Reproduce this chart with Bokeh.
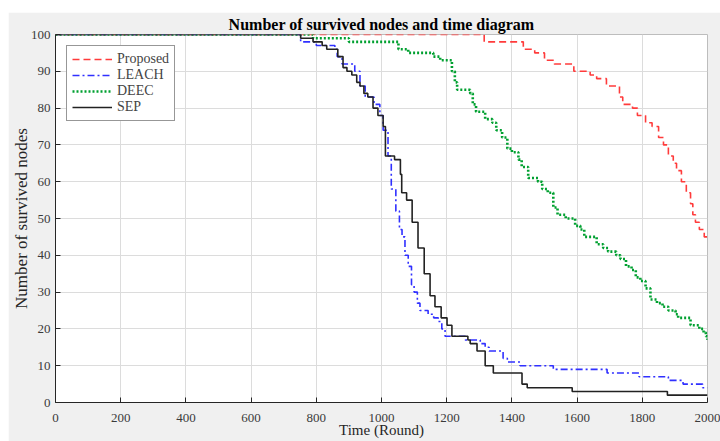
from bokeh.plotting import figure
from bokeh.embed import file_html
from bokeh.resources import INLINE
from bokeh.models import Legend, LegendItem, FixedTicker

# ---- data (round, alive nodes) breakpoints ----
prop_r = [0, 1315, 1435, 1470, 1500, 1530, 1590, 1640, 1660, 1690, 1730, 1740, 1770, 1785, 1810, 1830,
          1850, 1865, 1880, 1895, 1905, 1920, 1935, 1948, 1955, 1963, 1975, 1990, 2000]
prop_n = [100, 98, 96, 95, 93, 92, 90, 89, 88, 86, 83, 81, 80, 78, 76, 75,
          72, 70, 67, 65, 63, 60, 57, 54, 51, 49, 47, 45, 44]

leach_r = [0, 752, 800, 857, 864, 879, 918, 934, 950, 977, 995, 1005, 1020, 1030, 1044, 1055, 1063,
           1072, 1082, 1092, 1100, 1110, 1118, 1143, 1160, 1174, 1185, 1195, 1257, 1303, 1318, 1330,
           1373, 1386, 1425, 1527, 1692, 1790, 1880, 1925, 1985, 2000]
leach_n = [100, 98, 97, 96, 94, 92, 90, 86, 83, 81, 78, 74, 67, 58, 52, 47, 45,
           40, 37, 32, 30, 27, 25, 24, 23, 22, 20, 18, 17, 16, 15, 14,
           12, 11, 10, 9, 8, 7, 6, 5, 4, 4]

deec_r = [0, 790, 900, 1052, 1082, 1159, 1180, 1216, 1225, 1232, 1272, 1280, 1290, 1318, 1340, 1352,
          1370, 1386, 1400, 1420, 1430, 1450, 1480, 1493, 1510, 1527, 1540, 1565, 1594, 1610, 1622,
          1660, 1680, 1695, 1720, 1733, 1750, 1767, 1780, 1794, 1810, 1825, 1845, 1862, 1880, 1902,
          1910, 1948, 1975, 1988, 1995, 2000]
deec_n = [100, 99, 98, 96, 95, 94, 93, 90, 87, 85, 84, 81, 79, 77, 76, 74,
          72, 69, 68, 66, 64, 61, 60, 58, 57, 53, 51, 50, 48, 47, 45,
          43, 42, 41, 40, 39, 37, 36, 34, 33, 31, 28, 27, 26, 25, 24,
          23, 21, 20, 19, 18, 17]

sep_r = [0, 752, 790, 818, 832, 866, 882, 894, 909, 924, 934, 946, 958, 974, 989, 1005, 1012, 1040,
         1058, 1062, 1077, 1094, 1112, 1131, 1149, 1164, 1183, 1201, 1216, 1265, 1272, 1293, 1318,
         1343, 1431, 1447, 1585, 1877, 2000]
sep_n = [100, 99, 98, 97, 96, 94, 91, 90, 89, 87, 86, 84, 83, 80, 78, 75, 67, 66,
         62, 57, 55, 49, 42, 35, 29, 26, 23, 21, 18, 17, 16, 14, 10,
         8, 5, 4, 3, 2, 2]

x_ticks = [0, 200, 400, 600, 800, 1000, 1200, 1400, 1600, 1800, 2000]
y_ticks = [0, 10, 20, 30, 40, 50, 60, 70, 80, 90, 100]

SERIF = "Liberation Serif"
BG = "#f0f0f0"

p = figure(width=712, height=429, output_backend="svg", toolbar_location=None,
           x_range=(0, 2000), y_range=(0, 100),
           title="Number of survived nodes and time diagram",
           background_fill_color="white", border_fill_color=BG,
           min_border_left=47, min_border_right=13, min_border_top=22, min_border_bottom=39)
p.margin = (12, 0, 0, 8)

p.title.align = "center"
p.title.text_font = SERIF
p.title.text_font_size = "16px"
p.title.text_font_style = "bold"
p.title.text_color = "black"
p.title.standoff = 0
p.title.vertical_align = "top"

p.outline_line_color = "#bdbdbd"
p.outline_line_width = 1

for ax in (p.xaxis[0], p.yaxis[0]):
    ax.axis_line_color = "#262626"
    ax.major_tick_line_color = "#262626"
    ax.major_tick_in = 5
    ax.major_tick_out = 0
    ax.minor_tick_line_color = None
    ax.major_label_text_font = SERIF
    ax.major_label_text_font_size = "13px"
    ax.major_label_text_color = "#3a3a3a"
    ax.axis_label_text_font = SERIF
    ax.axis_label_text_font_style = "normal"
    ax.axis_label_text_color = "#262626"

p.xaxis.ticker = FixedTicker(ticks=x_ticks)
p.yaxis.ticker = FixedTicker(ticks=y_ticks)
p.xaxis.axis_label = "Time (Round)"
p.yaxis.axis_label = "Number of survived nodes"
p.xaxis.axis_label_text_font_size = "15px"
p.yaxis.axis_label_text_font_size = "17px"
p.xaxis.major_label_standoff = 11
p.xaxis.axis_label_standoff = -3
p.yaxis.major_label_standoff = 5
p.yaxis.axis_label_standoff = -3

p.xgrid.grid_line_color = "#dcdcdc"
p.ygrid.grid_line_color = "#dcdcdc"

r1 = p.step(prop_r, prop_n, mode="after", line_color="#ff3b3b", line_width=1.6, line_dash="7 4")
r2 = p.step(leach_r, leach_n, mode="after", line_color="#3030ff", line_width=1.6, line_dash="7 3 2 3")
r3 = p.step(deec_r, deec_n, mode="after", line_color="#00a030", line_width=2.6, line_dash="2 2")
r4 = p.step(sep_r, sep_n, mode="after", line_color="#222222", line_width=1.6)

legend = Legend(items=[
    LegendItem(label="Proposed", renderers=[r1]),
    LegendItem(label="LEACH", renderers=[r2]),
    LegendItem(label="DEEC", renderers=[r3]),
    LegendItem(label="SEP", renderers=[r4]),
], location="top_left")
legend.margin = 11
legend.padding = 5
legend.spacing = 0
legend.glyph_width = 40
legend.glyph_height = 16
legend.label_text_font = SERIF
legend.label_text_font_size = "14px"
legend.label_standoff = 5
legend.label_height = 16
legend.border_line_color = "#303030"
legend.border_line_width = 1
legend.background_fill_color = "white"
legend.background_fill_alpha = 1
p.add_layout(legend)

open("out.html", "w").write(file_html(p, INLINE))
